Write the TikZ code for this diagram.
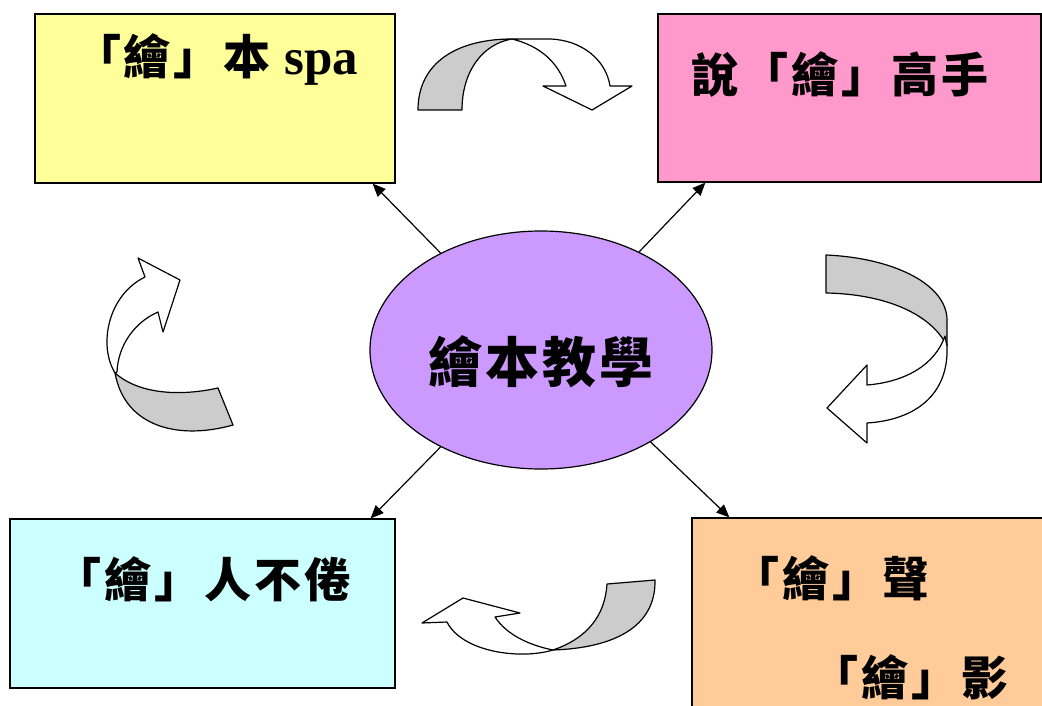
\documentclass[tikz,border=0pt]{standalone}
\usepackage{fontspec}
\setmainfont{Liberation Serif}
\newfontfamily\cjk{Noto Sans CJK TC}[LetterSpace=6]
\newfontfamily\cjkhub{Noto Sans CJK TC}[LetterSpace=5]
\usetikzlibrary{%
  arrows.meta
 ,shapes.geometric
}
\definecolor{spayellow}{HTML}{FFFF99}
\definecolor{masterpink}{HTML}{FF99CC}
\definecolor{tirelesscyan}{HTML}{CCFFFF}
\definecolor{voiceorange}{HTML}{FFCC99}
\definecolor{hubviolet}{HTML}{CC99FF}
\definecolor{ribbongray}{HTML}{CCCCCC}

\begin{document}
\begin{tikzpicture}[x=1pt,y=-1pt]
    \useasboundingbox (0,0) rectangle (1042,706);
    \tikzstyle{box}=[rectangle,draw=black,line width=1.2pt,inner sep=0pt]
    \tikzstyle{lbl}=[inner sep=0pt,font=\cjk\bfseries\fontsize{47}{50}\selectfont]
    \node[box,fill=spayellow,minimum width=360pt,minimum height=169pt](spa) at (215,98.5){};
    \node[box,fill=masterpink,minimum width=383pt,minimum height=168pt](master) at (849.5,98){};
    \node[box,fill=tirelesscyan,minimum width=385pt,minimum height=169pt](tireless) at (202.5,603.5){};
    \node[box,fill=voiceorange,minimum width=358pt,minimum height=197pt](voice) at (871,616.5){};
    \node[ellipse,draw=black,line width=1.2pt,fill=hubviolet,inner sep=0pt,
          minimum width=342pt,minimum height=238pt](hub) at (541,350){};
    %
    \node[lbl](spatext) at (216,59){「繪」本 {\rmfamily\fontsize{51}{54}\selectfont spa}};
    \node[lbl](mastertext) at (840,74){說「繪」高手};
    \node[lbl](tirelesstext) at (203,579){「繪」人不倦};
    \node[lbl](voicetext) at (831,578){「繪」聲};
    \node[lbl](shadowtext) at (910,677){「繪」影};
    \node[inner sep=0pt,font=\cjkhub\bfseries\fontsize{54}{58}\selectfont](hubtext) at (541,362){繪本教學};

    \tikzstyle{arr}=[-{Triangle[length=13pt,width=11pt]},line width=1.2pt]
    \draw[arr] (hub.136) -- ([xshift=-23pt]spa.south east);
    \draw[arr] (hub.45.6) -- ([xshift=48pt]master.south west);
    \draw[arr] (hub.224.7) -- ([xshift=-25pt]tireless.north east);
    \draw[arr] (hub.320) -- ([xshift=38pt]voice.north west);

    % curved ribbons between the boxes
    \tikzstyle{ribbon}=[draw=black,line width=1.2pt,line join=round]
    \draw[ribbon,fill=ribbongray] (418,110) .. controls (418,62) and (458,39) .. (512,39)
      .. controls (482,44) and (462,72) .. (462,110) -- cycle;
    \draw[ribbon,fill=white] (512,39) -- (550,39) .. controls (582,40) and (606,60) .. (610,86)
      -- (632,86) -- (592,110) -- (543,86) -- (566,86)
      .. controls (558,62) and (540,46) .. (512,39) -- cycle;
    \draw[ribbon,fill=ribbongray] (826,255) .. controls (895,258) and (947,285) .. (947,320)
      -- (947,346) .. controls (930,312) and (882,294) .. (826,293) -- cycle;
    \draw[ribbon,fill=white] (945,336) -- (947,346) .. controls (949,395) and (915,420) .. (867,423)
      -- (867,443) -- (827,408) -- (867,365) -- (867,385)
      .. controls (905,382) and (935,365) .. (945,336) -- cycle;
    \draw[ribbon,fill=ribbongray] (607,584) -- (655,580) .. controls (656,628) and (612,648) .. (553,650)
      .. controls (588,638) and (605,615) .. (607,584) -- cycle;
    \draw[ribbon,fill=white] (553,650) .. controls (520,660) and (462,652) .. (447,622)
      -- (422,623) -- (463,598) -- (520,613) -- (495,617)
      .. controls (506,634) and (528,645) .. (553,650) -- cycle;
    \draw[ribbon,fill=ribbongray] (218,388) -- (233,425) .. controls (180,440) and (125,428) .. (115,373)
      .. controls (140,395) and (182,396) .. (218,388) -- cycle;
    \draw[ribbon,fill=white] (115,373) .. controls (98,345) and (108,295) .. (145,277)
      -- (138,258) -- (180,280) -- (163,332) -- (158,312)
      .. controls (135,322) and (118,345) .. (117,372) -- cycle;
\end{tikzpicture}
\end{document}
